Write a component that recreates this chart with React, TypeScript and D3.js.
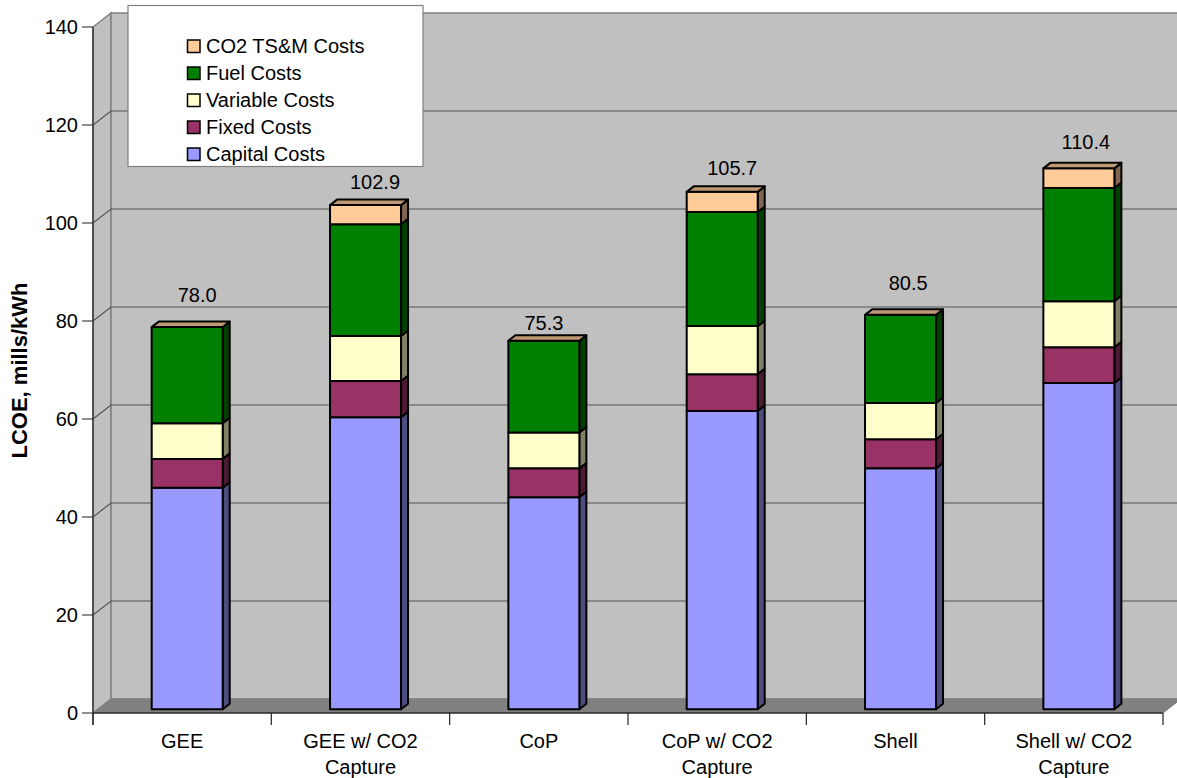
import React from "react";
import * as d3 from "d3";

const categories = [["GEE"], ["GEE w/ CO2", "Capture"], ["CoP"], ["CoP w/ CO2", "Capture"], ["Shell"], ["Shell w/ CO2", "Capture"]];
const seriesNames = ["Capital Costs", "Fixed Costs", "Variable Costs", "Fuel Costs", "CO2 TS&M Costs"];
const capital = [45.2, 59.6, 43.3, 60.9, 49.2, 66.6];
const fixed = [5.9, 7.4, 5.9, 7.5, 5.9, 7.3];
const variable = [7.3, 9.2, 7.3, 9.8, 7.4, 9.4];
const fuel = [19.6, 22.8, 18.7, 23.3, 18.0, 23.1];
const co2 = [0, 3.9, 0, 4.1, 0, 4.0];
const totals = ["78.0", "102.9", "75.3", "105.7", "80.5", "110.4"];
const totalValues = [78.0, 102.9, 75.2, 105.6, 80.5, 110.4];
const yTicks = [0, 20, 40, 60, 80, 100, 120, 140];

const fronts = ["#9999FF", "#993366", "#FFFFCC", "#008000", "#FFCC99"];
const sides = ["#4D4D80", "#4D1A33", "#808066", "#004000", "#806650"];
const topFace = "#BF9973";
const labelLift = [32, 23, 18, 24, 32, 26];
const labelShift = [10, 9.5, 0, 10, 7.6, 7];

const FONT = "'Liberation Sans', Arial, sans-serif";
const X0 = 93, X1 = 1163, DX = 18, DY = 14;
const BW = 71, BDX = 7, BDY = 5.5;

export default function App() {
  const y = d3.scaleLinear().domain([0, 140]).range([713, 27]);
  const x = d3.scaleBand<number>().domain(d3.range(6)).range([X0, X1]);
  const by = (v: number) => y(v) - 3.7;
  const rows = d3.range(6).map((i) => ({ i, a: capital[i], b: fixed[i], c: variable[i], d: fuel[i], e: co2[i] }));
  const stacked = d3.stack<any>().keys(["a", "b", "c", "d", "e"])(rows);
  const barX = (i: number) => (x(i) as number) + 58.7;
  return (
    <svg width={1177} height={778} style={{ position: "absolute", left: 0, top: 0, background: "#fff" }} fontFamily={FONT} fill="#000">
      {/* walls */}
      <polygon points={`${X0},${y(0)} ${X0 + DX},${y(0) - DY} ${X0 + DX},${y(140) - DY} ${X0},${y(140)}`} fill="#C0C0C0" stroke="#808080" strokeWidth={1.5} />
      <rect x={X0 + DX} y={y(140) - DY} width={X1 - X0} height={y(0) - y(140)} fill="#C0C0C0" stroke="#808080" strokeWidth={1.5} />
      <polygon points={`${X0},${y(0)} ${X0 + DX},${y(0) - DY} ${X1 + DX},${y(0) - DY} ${X1},${y(0)}`} fill="#808080" stroke="#808080" />
      {/* gridlines */}
      {yTicks.slice(1).map((t) => (
        <g key={t} fill="none" stroke="#555" strokeWidth={1.2}>
          {t < 140 && <polyline points={`${X0},${y(t)} ${X0 + DX},${y(t) - DY} ${X1 + DX},${y(t) - DY}`} />}
        </g>
      ))}
      {/* axes */}
      <line x1={X0} x2={X0} y1={y(140)} y2={725} stroke="#222" strokeWidth={1.2} />
      <line x1={X0} x2={X1} y1={y(0)} y2={y(0)} stroke="#000" strokeWidth={1.2} />
      {yTicks.map((t) => (
        <g key={t}>
          <line x1={X0 - 11} x2={X0} y1={y(t)} y2={y(t)} stroke="#444" strokeWidth={1.2} />
          <text x={X0 - 15} y={y(t)} textAnchor="end" dominantBaseline="central" fontSize={20}>{t}</text>
        </g>
      ))}
      {d3.range(7).map((i) => {
        const px = X0 + i * x.bandwidth();
        return <line key={i} x1={px} x2={px} y1={y(0)} y2={725} stroke="#222" strokeWidth={1.2} />;
      })}
      {/* bars */}
      {stacked.map((s, k) => (
        <g key={k}>
          {s.map((d, i) => {
            const bx = barX(i), t = by(d[1]), b = by(d[0]);
            return (
              <g key={i} stroke="#000" strokeWidth={2} strokeLinejoin="round">
                {d[1] > d[0] && <polygon points={`${bx + BW},${b} ${bx + BW + BDX},${b - BDY} ${bx + BW + BDX},${t - BDY} ${bx + BW},${t}`} fill={sides[k]} />}
                {d[1] > d[0] && <rect x={bx} y={t} width={BW} height={b - t} fill={fronts[k]} />}
              </g>
            );
          })}
        </g>
      ))}
      {totalValues.map((v, i) => {
        const bx = barX(i), t = by(v);
        return (
          <polygon key={i} points={`${bx},${t} ${bx + BDX},${t - BDY} ${bx + BW + BDX},${t - BDY} ${bx + BW},${t}`} fill={topFace} stroke="#000" strokeWidth={2} strokeLinejoin="round" />
        );
      })}
      {/* total labels */}
      {totals.map((l, i) => (
        <text key={i} x={barX(i) + BW / 2 + labelShift[i]} y={by(totalValues[i]) - labelLift[i]} textAnchor="middle" dominantBaseline="central" fontSize={20}>{l}</text>
      ))}
      {/* categories */}
      {categories.map((c, i) => (
        <text key={i} textAnchor="middle" fontSize={20}>
          {c.map((ln, j) => (
            <tspan key={j} x={(x(i) as number) + x.bandwidth() / 2} y={747.5 + j * 26}>{ln}</tspan>
          ))}
        </text>
      ))}
      {/* y title */}
      <text transform="translate(26.5,370.5) rotate(-90)" textAnchor="middle" fontSize={22} fontWeight="bold">LCOE, mills/kWh</text>
      {/* legend */}
      <rect x={128} y={5.5} width={295} height={161} fill="#fff" stroke="#808080" strokeWidth={1.2} />
      {seriesNames.map((n, k) => {
        const cy = 154 - k * 27;
        return (
          <g key={n}>
            <rect x={187.5} y={cy - 6} width={12.5} height={12.5} fill={fronts[k]} stroke="#000" strokeWidth={1.5} />
            <text x={206} y={cy} dominantBaseline="central" fontSize={20}>{n}</text>
          </g>
        );
      })}
    </svg>
  );
}
